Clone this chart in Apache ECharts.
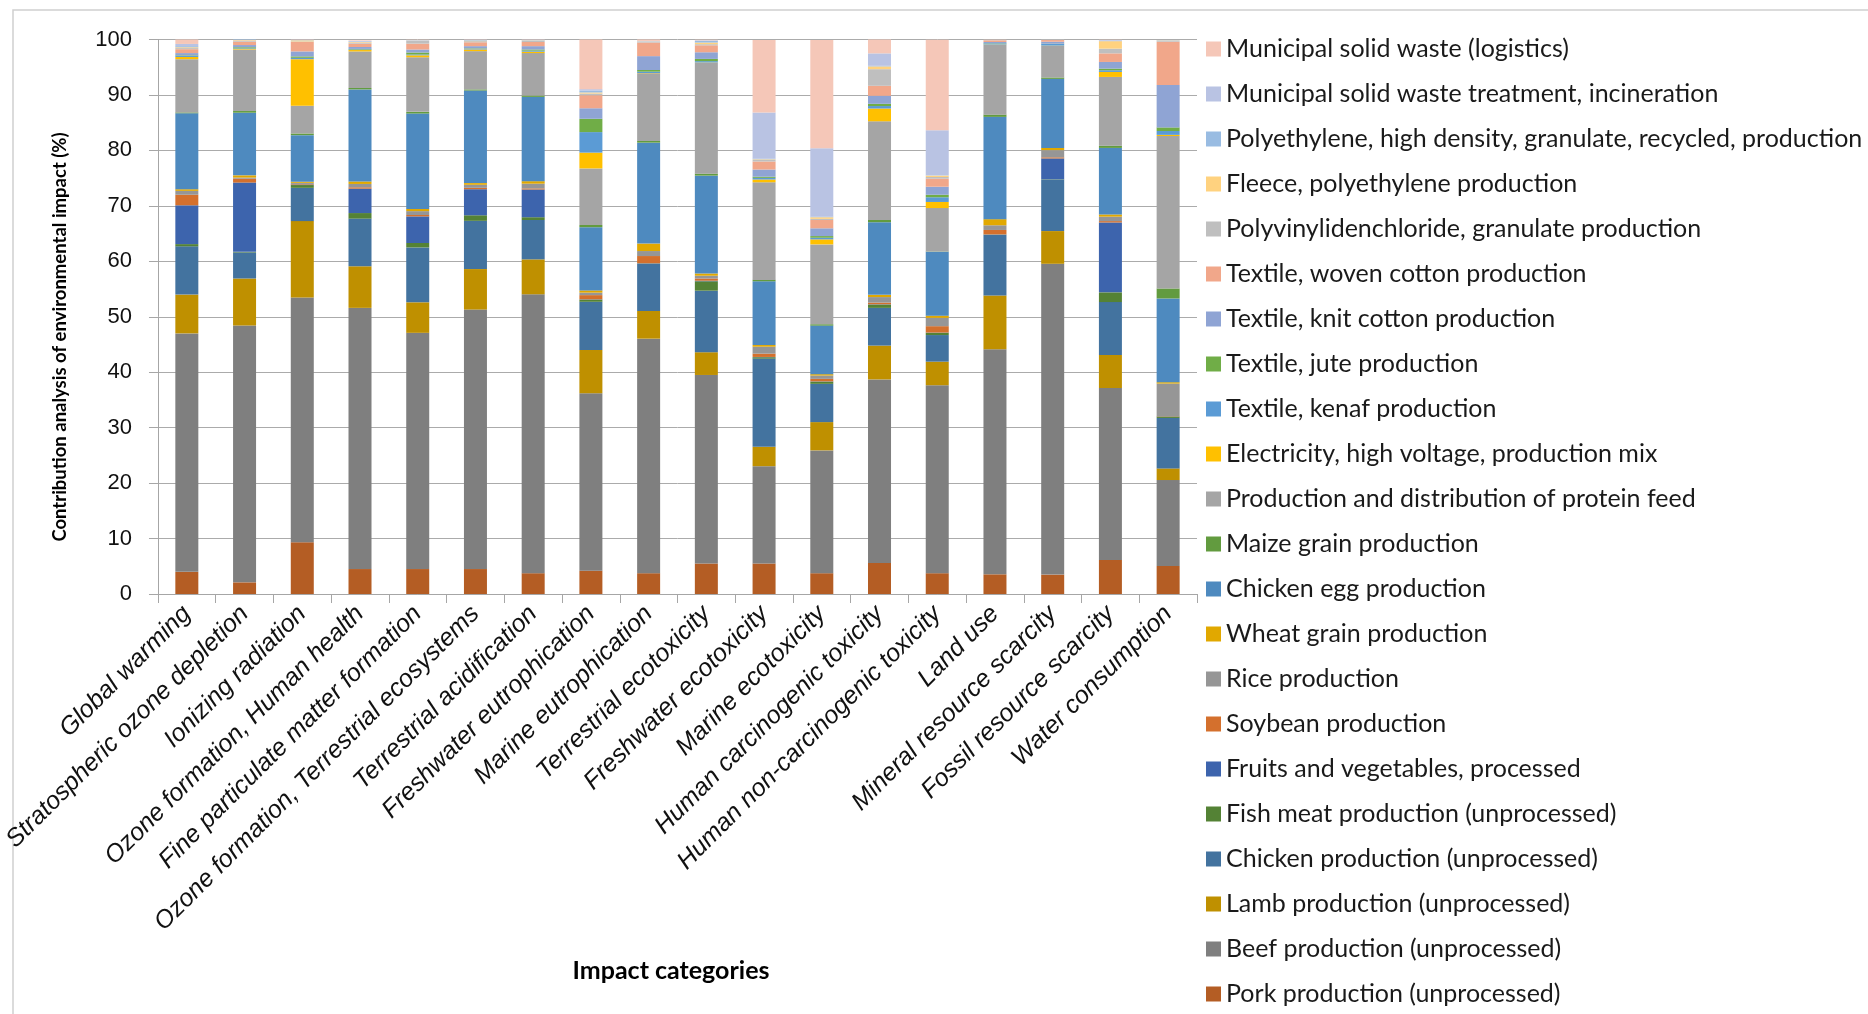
<!DOCTYPE html>
<html><head><meta charset="utf-8">
<script src="https://cdn.jsdelivr.net/npm/echarts@6/dist/echarts.min.js"></script>
<style>html,body{margin:0;padding:0;background:#fff}#c{width:1868px;height:1014px}</style>
</head><body><div id="c"></div>
<script>
const categories = ['Global warming','Stratospheric ozone depletion','Ionizing radiation','Ozone formation, Human health','Fine particulate matter formation','Ozone formation, Terrestrial ecosystems','Terrestrial acidification','Freshwater eutrophication','Marine eutrophication','Terrestrial ecotoxicity','Freshwater ecotoxicity','Marine ecotoxicity','Human carcinogenic toxicity','Human non-carcinogenic toxicity','Land use','Mineral resource scarcity','Fossil resource scarcity','Water consumption'];

const pork    = [4.0, 2.1, 9.35, 4.5, 4.5, 4.5, 3.75, 4.2, 3.75, 5.5, 5.5, 3.75, 5.6, 3.75, 3.55, 3.5, 6.15, 5.05];
const beef    = [43.0, 46.3, 44.1, 47.1, 42.6, 46.8, 50.3, 32.0, 42.3, 34.0, 17.55, 22.15, 33.1, 33.9, 40.6, 56.05, 31.0, 15.5];
const lamb    = [7.0, 8.5, 13.8, 7.5, 5.5, 7.3, 6.3, 7.8, 5.0, 4.1, 3.5, 5.1, 6.1, 4.25, 9.7, 5.9, 5.95, 2.1];
const chicken = [8.7, 4.7, 6.0, 8.6, 9.9, 8.7, 7.1, 8.7, 8.5, 11.1, 15.9, 6.9, 6.8, 4.8, 10.9, 9.3, 9.55, 9.1];
const fish    = [0.4, 0.1, 0.5, 1.0, 0.8, 1.0, 0.5, 0.4, 0.05, 1.7, 0.25, 0.4, 0.6, 0.4, 0.05, 0.05, 1.75, 0.25];
const fruits  = [7.0, 12.5, 0.1, 4.4, 4.8, 4.7, 5.0, 0.05, 0.05, 0.1, 0.05, 0.05, 0.05, 0.05, 0.05, 3.75, 12.6, 0.05];
const soybean = [1.9, 0.7, 0.1, 0.25, 0.25, 0.25, 0.2, 0.75, 1.3, 0.4, 0.6, 0.45, 0.3, 1.15, 0.8, 0.2, 0.25, 0.05];
const rice    = [0.7, 0.2, 0.2, 0.6, 0.7, 0.55, 0.85, 0.45, 0.9, 0.5, 1.25, 0.6, 1.0, 1.5, 0.85, 1.3, 0.8, 5.85];
const wheat   = [0.3, 0.4, 0.2, 0.45, 0.4, 0.3, 0.45, 0.4, 1.35, 0.4, 0.3, 0.25, 0.4, 0.4, 1.1, 0.4, 0.4, 0.25];
const egg     = [13.7, 11.3, 8.4, 16.6, 17.2, 16.7, 15.2, 11.4, 18.2, 17.65, 11.5, 8.75, 13.1, 11.5, 18.45, 12.45, 12.0, 15.1];
const maize   = [0.15, 0.3, 0.3, 0.25, 0.3, 0.2, 0.25, 0.4, 0.3, 0.35, 0.25, 0.25, 0.4, 0.05, 0.4, 0.25, 0.4, 1.8];
const feed    = [9.6, 11.1, 5.0, 6.6, 9.85, 6.9, 7.65, 10.2, 12.2, 20.0, 17.6, 14.4, 17.8, 7.85, 12.6, 5.7, 12.4, 27.5];
const elec    = [0.4, 0.1, 8.4, 0.25, 0.35, 0.3, 0.25, 2.85, 0.05, 0.05, 0.5, 0.9, 2.3, 1.1, 0.05, 0.05, 0.9, 0.2];
const kenaf   = [0.2, 0.1, 0.25, 0.1, 0.15, 0.1, 0.2, 3.7, 0.25, 0.25, 0.3, 0.3, 0.45, 0.85, 0.2, 0.3, 0.3, 0.7];
const jute    = [0.1, 0.2, 0.25, 0.1, 0.35, 0.1, 0.2, 2.4, 0.3, 0.4, 0.2, 0.3, 0.4, 0.45, 0.05, 0.05, 0.3, 0.65];
const knit    = [0.4, 0.4, 0.9, 0.35, 0.55, 0.4, 0.6, 1.9, 2.5, 1.2, 1.3, 1.4, 1.45, 1.45, 0.2, 0.35, 1.2, 7.65];
const woven   = [0.7, 0.6, 1.7, 0.6, 1.05, 0.7, 0.75, 2.35, 2.45, 1.25, 1.45, 1.5, 1.8, 1.45, 0.3, 0.3, 1.55, 7.8];
const pvdc    = [0.2, 0.2, 0.1, 0.2, 0.5, 0.2, 0.25, 0.3, 0.15, 0.2, 0.3, 0.2, 3.0, 0.3, 0.05, 0.1, 0.85, 0.2];
const fleece  = [0.15, 0.1, 0.2, 0.1, 0.05, 0.1, 0.05, 0.2, 0.05, 0.3, 0.1, 0.3, 0.5, 0.25, 0, 0, 1.35, 0.05];
const hdpe    = [0.2, 0.1, 0.05, 0.1, 0.05, 0.1, 0.05, 0.35, 0.05, 0.3, 0.1, 0.1, 0.1, 0.05, 0, 0, 0.1, 0.05];
const mswInc  = [0.4, 0.1, 0.05, 0.1, 0.05, 0.05, 0.05, 0.25, 0.05, 0.1, 8.35, 12.35, 2.25, 8.15, 0, 0, 0.1, 0];
const mswLog  = [0.9, 0.1, 0.05, 0.1, 0.05, 0.05, 0.05, 9.0, 0.3, 0.1, 13.05, 19.5, 2.6, 16.3, 0.05, 0.05, 0.05, 0];

const seriesNames = ['Pork production (unprocessed)','Beef production (unprocessed)','Lamb production (unprocessed)','Chicken production (unprocessed)','Fish meat production (unprocessed)','Fruits and vegetables, processed','Soybean production','Rice production','Wheat grain production','Chicken egg production','Maize grain production','Production and distribution of protein feed','Electricity, high voltage, production mix','Textile, kenaf production','Textile, jute production','Textile, knit cotton production','Textile, woven cotton production','Polyvinylidenchloride, granulate production','Fleece, polyethylene production','Polyethylene, high density, granulate, recycled, production','Municipal solid waste treatment, incineration','Municipal solid waste (logistics)'];
const seriesData = [pork, beef, lamb, chicken, fish, fruits, soybean, rice, wheat, egg, maize, feed, elec, kenaf, jute, knit, woven, pvdc, fleece, hdpe, mswInc, mswLog];
const seriesColors = ['#B45D24','#7F7F7F','#BF9000','#43739F','#548235','#3D64AD','#D4702D','#969696','#E1A800','#4E8ABF','#629B3F','#A5A5A5','#FFC000','#5B9BD5','#70AD47','#8FA4D4','#F1A78A','#BFBFBF','#FFD27F','#99BCE2','#B9C3E3','#F5C7B8'];
const yTicks = {min: 0, max: 100, interval: 10};

const chart = echarts.init(document.getElementById('c'));
const series = seriesNames.map((n, i) => ({
  name: n, type: 'bar', stack: 'total', data: seriesData[i], barWidth: 23,
  itemStyle: {color: seriesColors[i]}, emphasis: {disabled: true}
}));
chart.setOption({
  animation: false,
  backgroundColor: '#fff',
  textStyle: {fontFamily: 'Liberation Sans'},
  grid: {left: 146, right: 671, top: 39.5, bottom: 420, containLabel: false},
  legend: {
    orient: 'vertical', left: 1206, top: 36.5, padding: 0, itemWidth: 15, itemHeight: 15, itemGap: 20,
    icon: 'rect', data: seriesNames.slice().reverse(),
    textStyle: {fontFamily: 'Lato', fontSize: 25, color: '#1a1a1a'},
    selectedMode: false
  },
  xAxis: {
    type: 'category', data: categories,
    axisLine: {lineStyle: {color: '#A6A6A6', width: 1}},
    axisTick: {show: true, length: 9, lineStyle: {color: '#A6A6A6'}},
    axisLabel: {rotate: 45, interval: 0, margin: 16, fontStyle: 'italic', fontFamily: 'Liberation Sans', fontSize: 25, color: '#111'}
  },
  yAxis: {
    type: 'value', min: yTicks.min, max: yTicks.max, interval: yTicks.interval,
    axisLine: {show: true, lineStyle: {color: '#A6A6A6', width: 1}},
    axisTick: {show: true, length: 9, lineStyle: {color: '#A6A6A6'}},
    splitLine: {lineStyle: {color: '#ABABAB', width: 1}},
    axisLabel: {margin: 26, fontFamily: 'Liberation Sans', fontSize: 22, color: '#111'}
  },
  graphic: [
    {type: 'rect', shape: {x: 13, y: 10, width: 1900, height: 1100}, style: {fill: 'none', stroke: '#D0D0D0', lineWidth: 1.5}, silent: true, z: -1},
    {type: 'text', x: 60, y: 337, rotation: Math.PI / 2, style: {text: 'Contribution analysis of environmental impact (%)', fontFamily: 'Lato', fontWeight: 'bold', fontSize: 18.5, fill: '#000', textAlign: 'center', textVerticalAlign: 'middle'}},
    {type: 'text', x: 671, y: 971, style: {text: 'Impact categories', fontFamily: 'Lato', fontWeight: 'bold', fontSize: 25, fill: '#000', textAlign: 'center', textVerticalAlign: 'middle'}}
  ],
  series: series
});
</script></body></html>
